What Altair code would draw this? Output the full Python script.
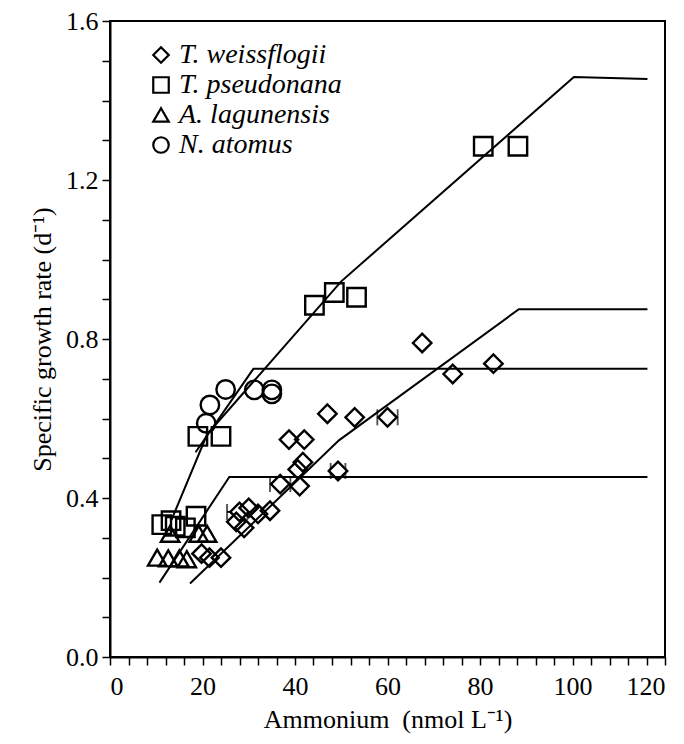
import altair as alt
import pandas as pd

# ---------------- data ----------------
species = ["T. weissflogii", "T. pseudonana", "A. lagunensis", "N. atomus"]
shapes = ["diamond", "square", "triangle-up", "circle"]

tw_x = [19.8, 21.5, 24.0, 27.3, 28.0, 29.0, 30.0, 32.0, 34.6, 36.8, 38.7, 41.0, 40.6, 41.7, 42.0, 47.0, 49.3, 52.9, 60.0, 67.5, 74.1, 82.9]
tw_y = [0.26, 0.25, 0.25, 0.34, 0.365, 0.325, 0.375, 0.36, 0.368, 0.435, 0.547, 0.43, 0.472, 0.49, 0.547, 0.612, 0.468, 0.603, 0.603, 0.79, 0.712, 0.738]

tp_x = [11.2, 13.2, 14.1, 16.3, 18.6, 19.0, 24.0, 44.2, 48.5, 53.3, 80.7, 88.2]
tp_y = [0.333, 0.343, 0.329, 0.325, 0.354, 0.555, 0.555, 0.885, 0.917, 0.905, 1.285, 1.285]

al_x = [10.2, 12.6, 13.0, 15.0, 16.6, 19.2, 21.0]
al_y = [0.25, 0.248, 0.31, 0.248, 0.246, 0.31, 0.31]

na_x = [20.8, 21.6, 25.0, 31.2, 35.0, 35.0]
na_y = [0.588, 0.634, 0.673, 0.672, 0.672, 0.662]

# horizontal error bars (T. weissflogii)
eb_x = [27.5, 36.8, 49.3, 60.0]
eb_y = [0.365, 0.435, 0.468, 0.603]
eb_err = [2.2, 2.2, 1.6, 2.2]

# fitted piecewise lines
fit_tw_x = [17.3, 49.5, 88.4, 116.2]
fit_tw_y = [0.185, 0.545, 0.875, 0.875]
fit_tp_x = [13.3, 21.0, 50.0, 100.3, 116.2]
fit_tp_y = [0.345, 0.56, 0.945, 1.459, 1.454]
fit_al_x = [10.7, 25.8, 116.2]
fit_al_y = [0.187, 0.453, 0.453]
fit_na_x = [18.5, 31.0, 116.2]
fit_na_y = [0.515, 0.725, 0.725]

x_ticks = list(range(0, 121, 4))
y_ticks = [round(i * 0.1, 1) for i in range(0, 17)]

# ---------------- tables ----------------
pts = []
for sp, xs, ys in zip(species, [tw_x, tp_x, al_x, na_x], [tw_y, tp_y, al_y, na_y]):
    for x, y in zip(xs, ys):
        pts.append({"species": sp, "x": x, "y": y})
pts = pd.DataFrame(pts)

fits = []
for sp, xs, ys in zip(species, [fit_tw_x, fit_tp_x, fit_al_x, fit_na_x], [fit_tw_y, fit_tp_y, fit_al_y, fit_na_y]):
    for i, (x, y) in enumerate(zip(xs, ys)):
        fits.append({"species": sp, "x": x, "y": y, "o": i})
fits = pd.DataFrame(fits)

ebs = pd.DataFrame({"y": eb_y, "lo": [a - e for a, e in zip(eb_x, eb_err)], "hi": [a + e for a, e in zip(eb_x, eb_err)]})
caps = pd.DataFrame({"x": list(ebs["lo"]) + list(ebs["hi"]), "y": eb_y + eb_y})

FONT = "Liberation Serif"

xscale = alt.Scale(domain=[0, 120], nice=False, zero=False)
yscale = alt.Scale(domain=[0, 1.6], nice=False, zero=False)

xaxis = alt.Axis(
    title="Ammonium\u00a0\u00a0(nmol L\u207b\u00b9)", values=x_ticks, tickCount=100,
    labelExpr="datum.value % 20 == 0 ? format(datum.value, 'd') : ''",
    labelOverlap=False, grid=False, tickSize=8, labelPadding=8, titlePadding=7,
)
yaxis = alt.Axis(
    title="Specific growth rate (d\u207b\u00b9)", values=y_ticks, tickCount=100,
    labelExpr="round(datum.value * 10) % 4 == 0 ? format(datum.value, '.1f') : ''",
    labelOverlap=False, grid=False, tickSize=8, labelPadding=4, titlePadding=10,
)

X = alt.X("x:Q", scale=xscale, axis=xaxis)
Y = alt.Y("y:Q", scale=yscale, axis=yaxis)

# white interiors: one layer per species with a fixed shape (no shape channel, no legend)
bg_layers = []
for sp, shp in zip(species, shapes):
    bg_layers.append(
        alt.Chart(pts).transform_filter(alt.datum.species == sp).mark_point(
            shape=shp, filled=True, color="white", size=340, opacity=1
        ).encode(x=alt.X("x:Q", scale=xscale), y=alt.Y("y:Q", scale=yscale))
    )

# black outlines carry the shape legend
points = alt.Chart(pts).mark_point(
    filled=False, color="black", size=340, strokeWidth=2.4, opacity=1
).encode(
    x=X, y=Y,
    shape=alt.Shape(
        "species:N", scale=alt.Scale(domain=species, range=shapes),
        legend=alt.Legend(title=None, orient="none", legendX=37, legendY=20, labelLimit=400),
    ),
)

err = alt.Chart(ebs).mark_rule(color="black", strokeWidth=1.8).encode(
    x=alt.X("lo:Q", scale=xscale), x2="hi:Q", y=alt.Y("y:Q", scale=yscale))
cap = alt.Chart(caps).mark_tick(color="black", orient="vertical", size=16, thickness=1.8).encode(
    x=alt.X("x:Q", scale=xscale), y=alt.Y("y:Q", scale=yscale))

lines = alt.Chart(fits).mark_line(color="black", strokeWidth=2).encode(
    x=alt.X("x:Q", scale=xscale), y=alt.Y("y:Q", scale=yscale),
    detail="species:N", order="o:Q")

chart = alt.layer(err, cap, *bg_layers, points, lines).properties(
    width=555, height=636,
    autosize=alt.AutoSizeParams(type="none"),
    padding={"left": 102, "top": 13, "right": 11, "bottom": 79},
).configure_view(
    stroke="black", strokeWidth=2
).configure_axis(
    domainColor="black", domainWidth=2, tickColor="black", tickWidth=1.5,
    labelFont=FONT, labelFontSize=26, labelColor="black",
    titleFont=FONT, titleFontSize=26, titleColor="black", titleFontWeight="normal",
).configure_legend(
    labelFont=FONT, labelFontSize=28, labelFontStyle="italic", labelColor="black",
    symbolStrokeColor="black", symbolStrokeWidth=2.2, symbolSize=240, symbolOpacity=1,
    rowPadding=2, labelOffset=4,
)

chart.save("out.html", embed_options={"renderer": "svg", "actions": False})
